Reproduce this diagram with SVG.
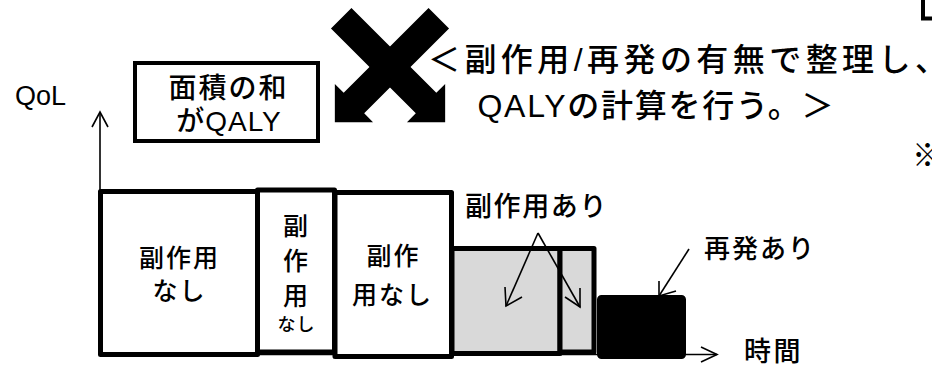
<svg xmlns="http://www.w3.org/2000/svg" width="932" height="367" viewBox="0 0 932 367">
<style>
text{font-family:"Liberation Sans","Noto Sans CJK JP",sans-serif;fill:#000;font-weight:500}
.box{stroke:#000;stroke-width:5;stroke-linejoin:round}
.thin{fill:none;stroke:#000;stroke-width:1.6;stroke-linejoin:miter}
.lbl{font-size:25px;letter-spacing:2px;text-anchor:middle}
.head{font-size:32px}
</style>
<rect width="932" height="367" fill="#fff"/>
<g id="axes" class="connectors">
<line class="thin" x1="100" y1="354" x2="100" y2="113"/>
<polyline class="thin" points="92,127 100,112 108,127"/>
<line class="thin" x1="100" y1="354.5" x2="717" y2="354.5"/>
<polyline class="thin" points="701,347 717,354.5 701,362"/>
</g>
<g id="qol"><text x="15" y="105" style="font-size:27px">QoL</text></g>
<g id="box1"><rect class="box" x="100.5" y="191.5" width="157" height="163" fill="#fff"/>
<text class="lbl" x="179.5" y="267">副作用</text><text class="lbl" x="179.5" y="300">なし</text></g>
<g id="box2"><rect class="box" x="257.5" y="190" width="77" height="162" fill="#fff"/>
<text class="lbl" x="296.5" y="235">副</text><text class="lbl" x="296.5" y="270">作</text><text class="lbl" x="296.5" y="305">用</text>
<text class="lbl" x="296.5" y="331" style="font-size:18px;letter-spacing:1px">なし</text></g>
<g id="box3"><rect class="box" x="335" y="192.5" width="116.5" height="164" fill="#fff"/>
<text class="lbl" x="393.5" y="265">副作</text><text class="lbl" x="392.5" y="304">用なし</text></g>
<g id="box4"><rect class="box" x="452" y="248.5" width="108" height="105" fill="#d9d9d9"/></g>
<g id="box5"><rect class="box" x="560" y="248.5" width="34" height="103.5" fill="#d9d9d9"/></g>
<g id="box6"><rect class="box" x="599.5" y="297.5" width="84" height="59" rx="2" fill="#000"/></g>
<g id="qaly-note"><rect x="135" y="63" width="183" height="78" fill="#fff" stroke="#000" stroke-width="4"/>
<text x="228.5" y="98" style="font-size:28px;letter-spacing:2px;text-anchor:middle">面積の和</text>
<text x="229" y="131" style="font-size:28px;letter-spacing:1px;text-anchor:middle">がQALY</text></g>
<g id="cross">
<polygon transform="translate(390,67) rotate(45)" points="-69,-14.5 51,-14.5 51,-27 78,0 51,27 51,14.5 -69,14.5"/>
<polygon transform="translate(390,67) rotate(135)" points="-69,-14.5 51,-14.5 51,-27 78,0 51,27 51,14.5 -69,14.5"/>
</g>
<g id="heading">
<text class="head" x="428" y="71" textLength="519" lengthAdjust="spacing">＜副作用/再発の有無で整理し、</text>
<text class="head" x="477.5" y="117" textLength="356" lengthAdjust="spacing">QALYの計算を行う。＞</text>
</g>
<g id="side-effect-label"><text x="465" y="216" style="font-size:27px;letter-spacing:1.6px">副作用あり</text></g>
<g id="relapse-label"><text x="704" y="258" style="font-size:26px;letter-spacing:2px">再発あり</text></g>
<g id="time-label"><text x="744" y="361" style="font-size:27px;letter-spacing:2.5px">時間</text></g>
<g id="connectors">
<line class="thin" x1="538" y1="233" x2="506" y2="306"/>
<polyline class="thin" points="505,287 506,306 522,297"/>
<line class="thin" x1="538" y1="233" x2="580" y2="307"/>
<polyline class="thin" points="565,297 580,307 580,288"/>
<line class="thin" x1="689" y1="249" x2="659" y2="296"/>
<polyline class="thin" points="659,281 659,296 676,291"/>
</g>
<g id="edge-fragments">
<path d="M923,0 V18.5 H935" fill="none" stroke="#000" stroke-width="4"/>
<text x="912" y="166" style="font-size:31px">※</text>
</g>
</svg>
